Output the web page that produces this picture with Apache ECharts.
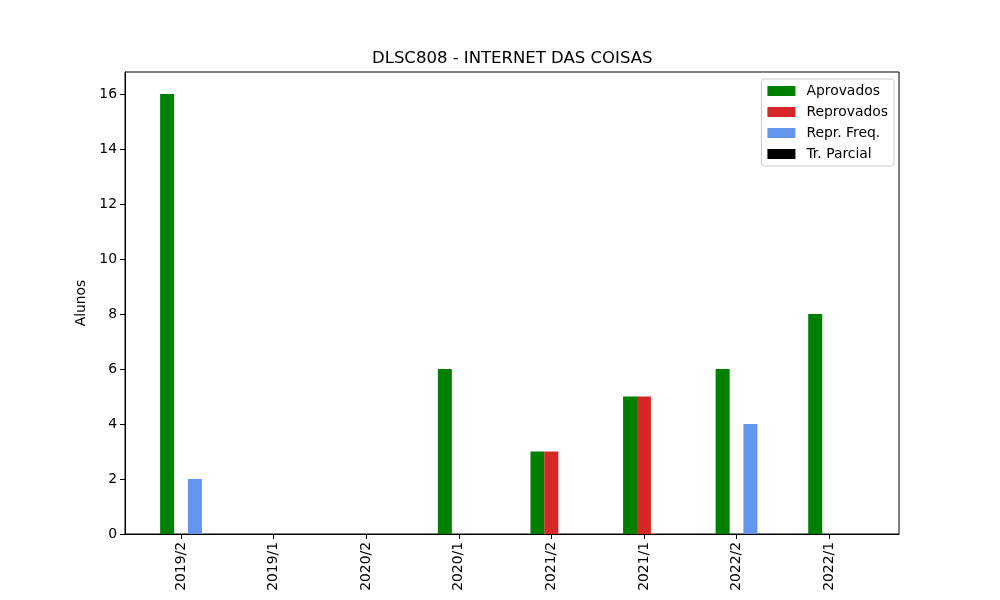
<!DOCTYPE html>
<html>
<head>
<meta charset="utf-8">
<script src="https://cdn.jsdelivr.net/npm/echarts@6/dist/echarts.min.js"></script>
<style>html,body{margin:0;padding:0;background:#fff}#c{width:1000px;height:600px}</style>
</head>
<body>
<div id="c"></div>
<script>
const categories = ['2019/2','2019/1','2020/2','2020/1','2021/2','2021/1','2022/2','2022/1'];
const aprovados   = [16, 0, 0, 6, 3, 5, 6, 8];
const reprovados  = [0, 0, 0, 0, 3, 5, 0, 0];
const reprFreq    = [2, 0, 0, 0, 0, 0, 4, 0];
const trParcial   = [0, 0, 0, 0, 0, 0, 0, 0];
const yTicks = [0, 2, 4, 6, 8, 10, 12, 14, 16];

const seriesDefs = [
  {name: 'Aprovados', data: aprovados, color: '#008000', off: -0.15},
  {name: 'Reprovados', data: reprovados, color: '#d62728', off: 0},
  {name: 'Repr. Freq.', data: reprFreq, color: '#6495ed', off: 0.15},
  {name: 'Tr. Parcial', data: trParcial, color: '#000000', off: 0.3}
];
const FONT = 'DejaVu Sans';
const chart = echarts.init(document.getElementById('c'), null, {renderer: 'canvas'});
const xIdx = categories.map((c, i) => i);
chart.setOption({
  animation: false,
  backgroundColor: '#fff',
  textStyle: {fontFamily: FONT},
  title: {
    text: 'DLSC808 - INTERNET DAS COISAS',
    left: 372, top: 50, padding: 0,
    textStyle: {fontFamily: FONT, fontSize: 16.5, fontWeight: 'normal', color: '#000'}
  },
  grid: {left: 125, right: 101, top: 72, bottom: 66, show: true, borderColor: '#000', borderWidth: 1, backgroundColor: 'transparent'},
  legend: {
    orient: 'vertical', right: 106, top: 79,
    itemWidth: 28, itemHeight: 10, itemGap: 7,
    padding: [5, 6, 5, 6],
    borderColor: '#cccccc', borderWidth: 1, borderRadius: 3,
    backgroundColor: 'rgba(255,255,255,0.8)',
    icon: 'rect',
    textStyle: {fontFamily: FONT, fontSize: 13.9, color: '#000', padding: [0, 0, 0, 6]},
    data: seriesDefs.map(s => s.name)
  },
  xAxis: {
    type: 'value', min: -0.605, max: 7.755,
    splitLine: {show: false},
    axisLine: {show: true, onZero: false, lineStyle: {color: '#000', width: 1}},
    axisTick: {show: true, length: 5, customValues: xIdx, lineStyle: {color: '#000'}},
    axisLabel: {
      customValues: xIdx, rotate: 90, margin: 8,
      fontFamily: FONT, fontSize: 13.9, color: '#000',
      formatter: v => categories[Math.round(v)]
    }
  },
  yAxis: {
    type: 'value', min: 0, max: 16.8,
    name: 'Alunos', nameLocation: 'middle', nameGap: 29,
    nameTextStyle: {fontFamily: FONT, fontSize: 13.9, color: '#000'},
    splitLine: {show: false},
    axisLine: {show: true, onZero: false, lineStyle: {color: '#000', width: 1}},
    axisTick: {show: true, length: 5, customValues: yTicks, lineStyle: {color: '#000'}},
    axisLabel: {customValues: yTicks, margin: 8, fontFamily: FONT, fontSize: 13.9, color: '#000'}
  },
  series: seriesDefs.map(s => ({
    type: 'bar', name: s.name,
    barWidth: 14, barGap: '-100%',
    itemStyle: {color: s.color},
    data: s.data.map((v, i) => [i + s.off, v])
  }))
});
</script>
</body>
</html>
